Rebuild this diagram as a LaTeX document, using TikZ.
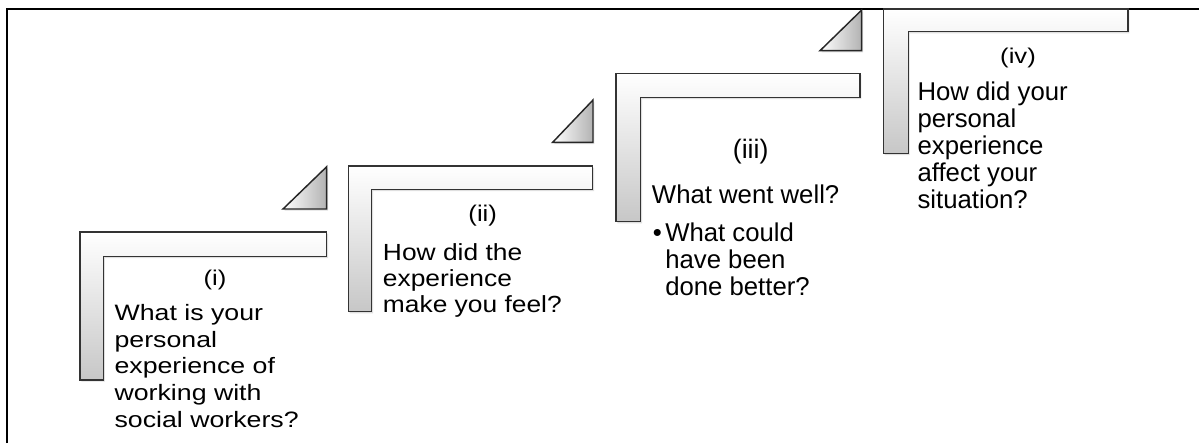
\documentclass[tikz,border=0pt]{standalone}
\usepackage{fontspec}
\setmainfont{Liberation Sans}
\newfontfamily\fA[FakeStretch=1.2]{Liberation Sans}
\newfontfamily\fB[FakeStretch=1.13]{Liberation Sans}
\newfontfamily\fC{Liberation Sans}
\usetikzlibrary{shadows}
\begin{document}
\begin{tikzpicture}[x=0.75pt,y=-0.75pt,
  stepL/.style={draw=black!80, line width=1.1pt, top color=white, bottom color=black!22,
    drop shadow={shadow xshift=1pt, shadow yshift=-1.3pt, opacity=0.25}},
  ramp/.style={draw=black!85, line width=1.1pt, left color=white, right color=black!30,
    drop shadow={shadow xshift=1pt, shadow yshift=-1.3pt, opacity=0.25}},
  frameline/.style={line width=1.5pt, draw=black},
  lbl/.style={anchor=base, inner sep=0pt},
  txt/.style={anchor=base west, align=left, inner sep=0pt}]
\useasboundingbox (0,0) rectangle (1199,443);
% frame
\draw[frameline] (7,443) -- (7,9) -- (1199,9);
% step (i)
\draw[stepL] (80,232) -- (326.7,232) -- (326.7,256.5) -- (103.5,256.5) -- (103.5,380) -- (80,380) -- cycle;
\draw[ramp] (283,209) -- (326.7,209) -- (326.7,166.7) -- cycle;
% step (ii)
\draw[stepL] (348.3,166) -- (592.7,166) -- (592.7,189.5) -- (371.7,189.5) -- (371.7,311.7) -- (348.3,311.7) -- cycle;
\draw[ramp] (552.7,142.3) -- (593,142.3) -- (593,100) -- cycle;
% step (iii)
\draw[stepL] (616,73.3) -- (860,73.3) -- (860,97.3) -- (640.7,97.3) -- (640.7,221.7) -- (616,221.7) -- cycle;
\draw[ramp] (820,50.7) -- (861.7,50.7) -- (861.7,10) -- cycle;
% step (iv)
\draw[stepL] (883.3,9) -- (1128,9) -- (1128,31.7) -- (908.3,31.7) -- (908.3,153.3) -- (883.3,153.3) -- cycle;
% texts (multi-line nodes are anchored at the baseline of their last line)
\node[lbl, font=\fA\fontsize{16}{20}\selectfont] (n1) at (215,285) {(i)};
\node[txt, font=\fA\fontsize{16.7}{20}\selectfont] (t1) at (114.3,427.2)
  {What is your\\personal\\experience of\\working with\\social workers?};
\node[lbl, font=\fB\fontsize{17}{20}\selectfont] (n2) at (482.7,221) {(ii)};
\node[txt, font=\fB\fontsize{17.5}{19.5}\selectfont] (t2) at (382.7,312)
  {How did the\\experience\\make you feel?};
\node[lbl, font=\fC\fontsize{20}{20}\selectfont] (n3) at (750.7,158) {(iii)};
\node[txt, font=\fC\fontsize{19.3}{20}\selectfont] (t3a) at (651.7,203) {What went well?};
\node[txt, font=\fC\fontsize{19.3}{20}\selectfont] (b3) at (652.5,241.7) {•};
\node[txt, font=\fC\fontsize{19.3}{20}\selectfont] (t3b) at (665,295)
  {What could\\have been\\done better?};
\node[lbl, font=\fA\fontsize{16}{20}\selectfont] (n4) at (1018,63) {(iv)};
\node[txt, font=\fC\fontsize{19.3}{20.25}\selectfont] (t4) at (917.3,208)
  {How did your\\personal\\experience\\affect your\\situation?};
\end{tikzpicture}
\end{document}
